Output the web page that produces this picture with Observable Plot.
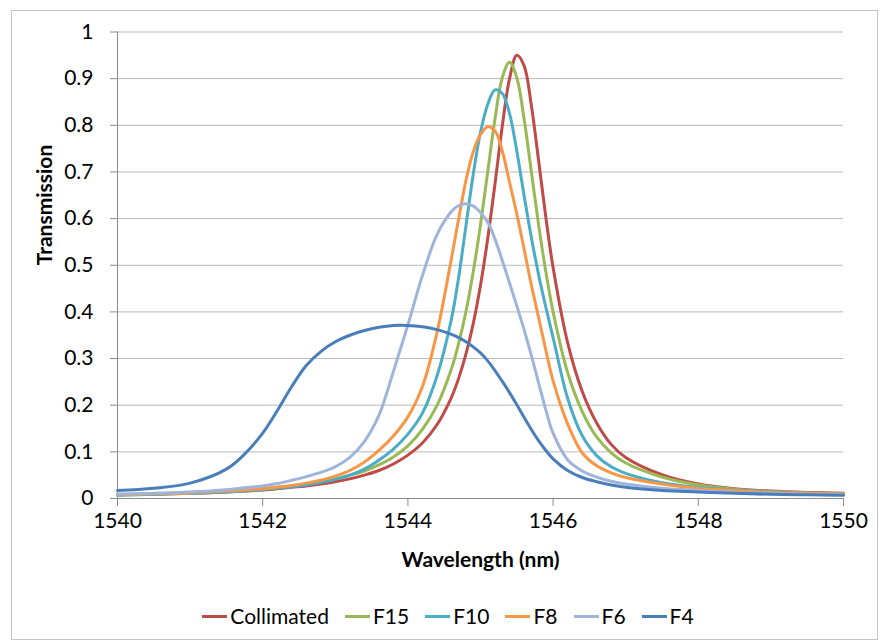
<!DOCTYPE html>
<html>
<head>
<meta charset="utf-8">
<script src="https://cdn.jsdelivr.net/npm/d3@7"></script>
<script src="https://cdn.jsdelivr.net/npm/@observablehq/plot@0.6"></script>
<style>
  html, body { margin: 0; padding: 0; background: #fff; }
  body { width: 882px; height: 641px; position: relative; overflow: hidden; font-family: Lato, "Open Sans", sans-serif; }
  #frame { position: absolute; left: 11px; top: 10px; width: 867px; height: 630px; box-sizing: border-box; border: 1px solid #c4c4c4; }
  #chart { position: absolute; left: 0; top: 0; }
  #legend { position: absolute; left: 0; top: 604px; width: 896px; height: 24px; display: flex; justify-content: center; align-items: center; gap: 16px; font-size: 21px; line-height: 24px; color: #000; }
  .item { display: flex; align-items: center; }
  .sw { width: 25px; height: 3px; margin-right: 3px; }
</style>
</head>
<body>
<div id="frame"></div>
<div id="chart"></div>
<div id="legend"></div>
<script>
// Wavelength grid (nm)
const wavelengths = [1540, 1540.5, 1541, 1541.5, 1541.75, 1542, 1542.2, 1542.4, 1542.6, 1542.8, 1543, 1543.2, 1543.4, 1543.6, 1543.8, 1544, 1544.2, 1544.4, 1544.6, 1544.7, 1544.8, 1544.9, 1545, 1545.1, 1545.2, 1545.3, 1545.4, 1545.5, 1545.6, 1545.7, 1545.8, 1545.9, 1546, 1546.2, 1546.4, 1546.6, 1546.8, 1547, 1547.5, 1548, 1548.5, 1549, 1549.5, 1550];

// Transmission values per series
const collimated = [0.008, 0.009, 0.011, 0.014, 0.016, 0.018, 0.021, 0.024, 0.027, 0.031, 0.036, 0.042, 0.050, 0.060, 0.074, 0.093, 0.119, 0.158, 0.217, 0.258, 0.310, 0.375, 0.457, 0.558, 0.675, 0.798, 0.900, 0.950, 0.928, 0.843, 0.725, 0.603, 0.495, 0.334, 0.230, 0.162, 0.116, 0.088, 0.051, 0.031, 0.021, 0.016, 0.013, 0.011];
const f15 = [0.009, 0.010, 0.013, 0.016, 0.018, 0.021, 0.024, 0.027, 0.031, 0.036, 0.042, 0.050, 0.059, 0.072, 0.089, 0.113, 0.148, 0.199, 0.278, 0.333, 0.401, 0.486, 0.587, 0.701, 0.814, 0.902, 0.935, 0.902, 0.814, 0.701, 0.587, 0.486, 0.400, 0.270, 0.187, 0.132, 0.098, 0.076, 0.046, 0.029, 0.020, 0.015, 0.012, 0.010];
const f10 = [0.007, 0.009, 0.011, 0.014, 0.016, 0.019, 0.022, 0.025, 0.029, 0.034, 0.041, 0.050, 0.063, 0.082, 0.106, 0.138, 0.183, 0.262, 0.385, 0.475, 0.585, 0.695, 0.785, 0.845, 0.876, 0.868, 0.825, 0.745, 0.650, 0.560, 0.480, 0.410, 0.345, 0.215, 0.135, 0.092, 0.068, 0.054, 0.034, 0.024, 0.018, 0.014, 0.011, 0.009];
const f8 = [0.008, 0.010, 0.012, 0.016, 0.018, 0.021, 0.024, 0.028, 0.033, 0.039, 0.048, 0.060, 0.078, 0.103, 0.134, 0.175, 0.240, 0.355, 0.515, 0.600, 0.682, 0.743, 0.780, 0.797, 0.788, 0.745, 0.678, 0.610, 0.535, 0.458, 0.388, 0.318, 0.252, 0.160, 0.098, 0.070, 0.055, 0.045, 0.031, 0.022, 0.017, 0.013, 0.011, 0.009];
const f6 = [0.009, 0.011, 0.014, 0.019, 0.023, 0.027, 0.032, 0.039, 0.047, 0.056, 0.068, 0.088, 0.122, 0.178, 0.272, 0.372, 0.478, 0.565, 0.615, 0.628, 0.632, 0.627, 0.613, 0.592, 0.556, 0.510, 0.462, 0.413, 0.362, 0.307, 0.248, 0.190, 0.140, 0.083, 0.059, 0.046, 0.037, 0.031, 0.022, 0.017, 0.013, 0.011, 0.009, 0.008];
const f4 = [0.017, 0.022, 0.033, 0.063, 0.095, 0.140, 0.188, 0.240, 0.285, 0.315, 0.336, 0.350, 0.360, 0.367, 0.371, 0.371, 0.368, 0.362, 0.352, 0.345, 0.336, 0.325, 0.312, 0.295, 0.274, 0.251, 0.227, 0.201, 0.174, 0.148, 0.124, 0.103, 0.085, 0.060, 0.045, 0.036, 0.029, 0.024, 0.017, 0.014, 0.011, 0.009, 0.008, 0.007];

const seriesNames = ["Collimated", "F15", "F10", "F8", "F6", "F4"];
const seriesColors = ["#BE4B48", "#98B954", "#4BACC6", "#F79646", "#9EB4DA", "#4A7EBB"];
const seriesValues = [collimated, f15, f10, f8, f6, f4];

const xTicks = [1540, 1542, 1544, 1546, 1548, 1550];
const xTickLabels = ["1540", "1542", "1544", "1546", "1548", "1550"];
const yTicks = [0, 0.1, 0.2, 0.3, 0.4, 0.5, 0.6, 0.7, 0.8, 0.9, 1];
const yTickLabels = ["0", "0.1", "0.2", "0.3", "0.4", "0.5", "0.6", "0.7", "0.8", "0.9", "1"];
const xTitle = "Wavelength (nm)";
const yTitle = "Transmission";

const rows = [];
seriesNames.forEach((name, s) => {
  wavelengths.forEach((w, i) => rows.push({series: name, wavelength: w, transmission: seriesValues[s][i]}));
});

const chart = Plot.plot({
  width: 882,
  height: 590,
  marginLeft: 117,
  marginRight: 39,
  marginTop: 31.5,
  marginBottom: 92,
  style: {fontFamily: "Lato, 'Open Sans', sans-serif", fontSize: "21px", color: "#000", background: "transparent", overflow: "visible"},
  x: {domain: [1540, 1550]},
  y: {domain: [0, 1]},
  color: {domain: seriesNames, range: seriesColors},
  marks: [
    Plot.gridY(yTicks, {stroke: "#b9b9b9", strokeOpacity: 1, strokeWidth: 1}),
    Plot.ruleX([1540], {stroke: "#8a8a8a"}),
    Plot.ruleY([0], {stroke: "#8a8a8a"}),
    Plot.axisX(xTicks, {tickSize: 8, tickPadding: 7, stroke: "#8a8a8a", fill: "#000", tickFormat: (d, i) => xTickLabels[i], label: null}),
    Plot.axisY(yTicks, {tickSize: 7, tickPadding: 17, stroke: "#8a8a8a", fill: "#000", tickFormat: (d, i) => yTickLabels[i], label: null}),
    Plot.text([xTitle], {frameAnchor: "bottom", dy: 68, fontWeight: "bold", fontSize: 21, fill: "#000"}),
    Plot.text([yTitle], {frameAnchor: "left", dx: -72, rotate: -90, fontWeight: "bold", fontSize: 21, fill: "#000"}),
    Plot.line(rows, {x: "wavelength", y: "transmission", z: "series", stroke: "series", strokeWidth: 3, curve: "catmull-rom"})
  ]
});
document.getElementById("chart").appendChild(chart);

const legend = document.getElementById("legend");
seriesNames.forEach((name, i) => {
  const item = document.createElement("div");
  item.className = "item";
  const sw = document.createElement("span");
  sw.className = "sw";
  sw.style.background = seriesColors[i];
  const label = document.createElement("span");
  label.textContent = name;
  item.appendChild(sw);
  item.appendChild(label);
  legend.appendChild(item);
});
</script>
</body>
</html>
